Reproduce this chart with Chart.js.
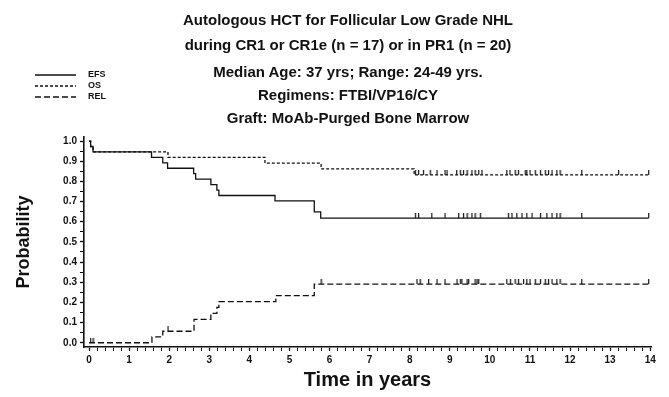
<!DOCTYPE html>
<html><head><meta charset="utf-8">
<script src="https://cdn.jsdelivr.net/npm/chart.js@4.4.1/dist/chart.umd.min.js"></script>
<style>
html,body{margin:0;padding:0;background:#fff;}
#wrap{position:relative;width:669px;height:397px;overflow:hidden;font-family:"Liberation Sans",Arial,Helvetica,sans-serif;font-weight:bold;color:#111;}
#c{position:absolute;left:0;top:0;}
.t{position:absolute;left:48px;width:600px;text-align:center;white-space:nowrap;font-size:15px;line-height:18px;}
.lg{position:absolute;left:35px;font-size:9px;line-height:11px;}
.lg svg{position:absolute;left:0;top:5px;}
.lg span{position:absolute;left:53px;top:0;}
</style></head>
<body>
<div id="wrap">
<canvas id="c" width="669" height="397"></canvas>
<div class="t" style="top:11px">Autologous HCT for Follicular Low Grade NHL</div>
<div class="t" style="top:36px">during CR1 or CR1e (n = 17) or in PR1 (n = 20)</div>
<div class="t" style="top:63px">Median Age: 37 yrs; Range: 24-49 yrs.</div>
<div class="t" style="top:86px">Regimens: FTBI/VP16/CY</div>
<div class="t" style="top:109px">Graft: MoAb-Purged Bone Marrow</div>
<div class="lg" style="top:69px"><svg width="42" height="2"><line x1="0" y1="1" x2="41" y2="1" stroke="#111" stroke-width="1.3"/></svg><span>EFS</span></div>
<div class="lg" style="top:80px"><svg width="42" height="2"><line x1="0" y1="1" x2="41" y2="1" stroke="#111" stroke-width="1.3" stroke-dasharray="3,2"/></svg><span>OS</span></div>
<div class="lg" style="top:91px"><svg width="42" height="2"><line x1="0" y1="1" x2="41" y2="1" stroke="#111" stroke-width="1.3" stroke-dasharray="6,3"/></svg><span>REL</span></div>
</div>
<script>
// ---- data ----
const efsTimes  = [0, 0.04, 0.10, 1.56, 1.84, 1.96, 2.61, 2.66, 3.04, 3.19, 3.24, 4.64, 5.62, 5.78, 13.96];
const efsValues = [1.000, 0.973, 0.946, 0.919, 0.892, 0.865, 0.838, 0.811, 0.784, 0.757, 0.730, 0.703, 0.649, 0.618, 0.618];
const osTimes   = [0, 0.04, 0.10, 1.97, 4.39, 5.79, 8.11, 13.96];
const osValues  = [1.000, 0.973, 0.946, 0.919, 0.890, 0.862, 0.832, 0.832];
const relTimes  = [0, 1.57, 1.84, 2.62, 3.04, 3.19, 3.24, 4.66, 5.62, 13.96];
const relValues = [0.000, 0.029, 0.057, 0.116, 0.146, 0.175, 0.204, 0.234, 0.291, 0.291];
const efsCensor = [8.14, 8.22, 8.55, 8.88, 9.22, 9.34, 9.43, 9.55, 9.63, 9.76, 10.46, 10.55, 10.67, 10.80, 10.92, 11.05, 11.26, 11.42, 11.55, 11.67, 11.75, 12.29, 13.96];
const osCensor  = [8.14, 8.22, 8.34, 8.51, 8.68, 8.88, 8.93, 9.17, 9.26, 9.34, 9.43, 9.55, 9.63, 9.72, 9.80, 10.42, 10.50, 10.63, 10.71, 10.88, 10.92, 11.00, 11.13, 11.26, 11.38, 11.46, 11.55, 11.67, 11.75, 12.29, 13.21, 13.96];
const relCensor = [0.04, 0.10, 1.97, 5.79, 8.18, 8.26, 8.47, 8.68, 8.88, 9.18, 9.26, 9.30, 9.43, 9.47, 9.63, 9.68, 9.72, 10.42, 10.51, 10.63, 10.71, 10.84, 10.92, 11.00, 11.13, 11.26, 11.38, 11.46, 11.55, 11.67, 11.75, 12.29, 13.96];
const xMajorTicks = [0,1,2,3,4,5,6,7,8,9,10,11,12,13,14];
const yMajorTicks = [0.0,0.1,0.2,0.3,0.4,0.5,0.6,0.7,0.8,0.9,1.0];
const seriesNames = ['EFS','OS','REL'];

// ---- helpers ----
const ink = '#111';
function pts(ts, vs){ return ts.map((t,i)=>({x:t,y:vs[i]})); }
function valueAt(ts, vs, t){ let v = vs[0]; for(let i=0;i<ts.length;i++){ if(ts[i] <= t) v = vs[i]; } return v; }
function censorPts(cs, ts, vs){ return cs.map(t=>({x:t, y:valueAt(ts,vs,t)})); }
function tickImg(){
  const c=document.createElement('canvas'); c.width=3; c.height=10;
  const g=c.getContext('2d'); g.fillStyle=ink; g.fillRect(1,0,1.2,5); return c;
}
const tImg = tickImg();
const isMajor = (v, arr) => arr.some(m => Math.abs(m - v) < 1e-6);
const font = {family:'"Liberation Sans", Arial, sans-serif', weight:'bold', size:10};

const stepLine = (label, data, dash) => ({
  type:'line', label, data, stepped:true, borderColor:ink, borderWidth:1.3,
  borderDash:dash, pointRadius:0, fill:false, tension:0
});
const censorSet = (label, data) => ({
  type:'scatter', label, data, pointStyle:tImg, pointRadius:3, pointHoverRadius:3,
  borderColor:ink, backgroundColor:ink, showLine:false
});

new Chart(document.getElementById('c'), {
  type:'line',
  data:{ datasets:[
    stepLine(seriesNames[0], pts(efsTimes, efsValues), []),
    stepLine(seriesNames[1], pts(osTimes, osValues), [3,2]),
    stepLine(seriesNames[2], pts(relTimes, relValues), [6,3]),
    censorSet(seriesNames[0]+' censored', censorPts(efsCensor, efsTimes, efsValues)),
    censorSet(seriesNames[1]+' censored', censorPts(osCensor, osTimes, osValues)),
    censorSet(seriesNames[2]+' censored', censorPts(relCensor, relTimes, relValues))
  ]},
  options:{
    responsive:false, animation:false, devicePixelRatio:1,
    layout:{padding:{left:0,right:18,top:137,bottom:0}},
    plugins:{legend:{display:false}, tooltip:{enabled:false}, title:{display:false}},
    scales:{
      x:{
        type:'linear', min:-0.125, max:14.02,
        afterFit:(s)=>{ s.height = 50; },
        border:{display:true, color:ink, width:1.6},
        grid:{drawOnChartArea:false, drawTicks:true, tickLength:4, tickColor:ink,
              tickWidth:(ctx)=> isMajor(ctx.tick.value, xMajorTicks) ? 1.3 : 1},
        ticks:{stepSize:0.2, includeBounds:false, autoSkip:false, maxRotation:0, minRotation:0,
               color:ink, font, padding:3, maxTicksLimit:500,
               callback:(v)=> isMajor(v, xMajorTicks) ? String(Math.round(v)) : ''},
        title:{display:true, text:'Time in years', color:ink,
               font:{family:'"Liberation Sans", Arial, sans-serif', weight:'bold', size:20},
               padding:{top:0,bottom:5}}
      },
      y:{
        type:'linear', min:-0.021, max:1.02,
        afterFit:(s)=>{ s.width = 84; },
        border:{display:true, color:ink, width:1.6},
        grid:{drawOnChartArea:false, drawTicks:true, tickLength:4, tickColor:ink,
              tickWidth:(ctx)=> isMajor(ctx.tick.value, yMajorTicks) ? 1.3 : 1},
        ticks:{stepSize:0.05, includeBounds:false, autoSkip:false, color:ink, font, padding:3, maxTicksLimit:500,
               callback:(v)=> isMajor(v, yMajorTicks) ? Math.abs(v).toFixed(1) : ''},
        title:{display:true, text:'Probability', color:ink,
               font:{family:'"Liberation Sans", Arial, sans-serif', weight:'bold', size:18},
               padding:{top:13,bottom:0}}
      }
    }
  }
});
</script>
</body></html>
